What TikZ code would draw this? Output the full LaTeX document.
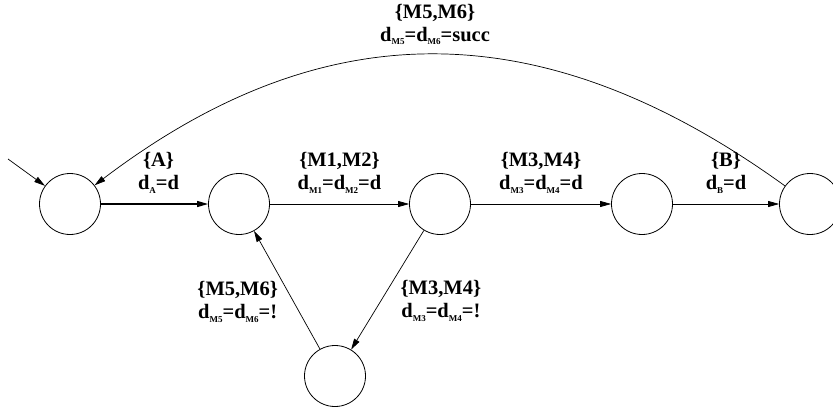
\documentclass[tikz,border=0pt]{standalone}
\usepackage{fontspec}
\setmainfont{Liberation Serif}
\usetikzlibrary{arrows.meta}
\newcommand{\dsub}[1]{d\raisebox{-3.5pt}{\fontsize{9}{9}\selectfont #1}}

\begin{document}
\begin{tikzpicture}[x=1pt,y=-1pt,line width=0.7pt,
  >={Triangle[length=11pt,width=6pt]},
  state/.style={draw,circle,minimum size=61pt,inner sep=0pt,line width=0.8pt},
  lbl/.style={font=\fontsize{20.5}{23}\selectfont\bfseries,align=center}]
  \useasboundingbox (0,0) rectangle (833,412);
  % states
  \node[state] (st0) at (70,204) {};
  \node[state] (st1) at (239,204) {};
  \node[state] (st2) at (440,204) {};
  \node[state] (st3) at (642,204) {};
  \node[state] (st4) at (810,204) {};
  \node[state] (st5) at (335,376) {};
  \coordinate (start) at (8,159);
  % transitions
  \draw[->] (start) -- (st0);
  \draw[->,line width=1.2pt] (st0) -- node[lbl,above=7pt,xshift=4pt] {\{A\}\\\dsub{A}=d} (st1);
  \draw[->] (st1) -- node[lbl,above=7pt] {\{M1,M2\}\\\dsub{M1}=\dsub{M2}=d} (st2);
  \draw[->] (st2) -- node[lbl,above=7pt] {\{M3,M4\}\\\dsub{M3}=\dsub{M4}=d} (st3);
  \draw[->] (st3) -- node[lbl,above=7pt] {\{B\}\\\dsub{B}=d} (st4);
  \draw[->] (st2) -- node[lbl,pos=0.59,right=16pt] {\{M3,M4\}\\\dsub{M3}=\dsub{M4}=!} (st5);
  \draw[->] (st5) -- node[lbl,pos=0.4,left=12pt] {\{M5,M6\}\\\dsub{M5}=\dsub{M6}=!} (st1);
  \draw[->] (st4) .. controls (543,11) and (324,11) .. node[lbl,above=6pt] {\{M5,M6\}\\\dsub{M5}=\dsub{M6}=succ} (st0);
\end{tikzpicture}
\end{document}
